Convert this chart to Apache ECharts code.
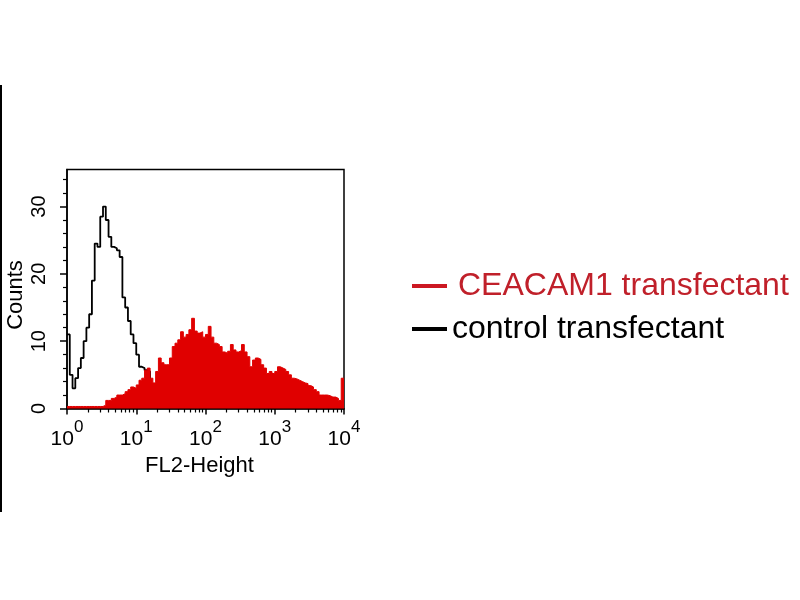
<!DOCTYPE html>
<html>
<head>
<meta charset="utf-8">
<script src="https://cdn.jsdelivr.net/npm/echarts@6/dist/echarts.min.js"></script>
<style>
html,body{margin:0;padding:0;background:#fff;}
#chart{width:800px;height:600px;}
</style>
</head>
<body>
<div id="chart"></div>
<script>
// ---- data ----
const seriesNames = ['CEACAM1 transfectant', 'control transfectant'];
const binsPerDecade = 25;           // histogram channels per decade (log scale)
const xDecadeExponents = [0, 1, 2, 3, 4];
const yTickValues = [0, 10, 20, 30];

// control transfectant (black outline)
const controlCounts = [
  11, 5, 3, 4.5, 6, 7.5, 10, 12, 14, 19,
  24.5, 24, 28.5, 30, 28, 25.5, 24, 23.8, 23.5, 22.5,
  16.5, 15, 13, 11, 9.7, 8, 6.2, 6, 5.7, 5.5,
  3.2, 1.5, 0.5, 0, 0, 0, 0, 0, 0, 0,
  0, 0, 0, 0, 0, 0, 0, 0, 0, 0,
  0, 0, 0, 0, 0, 0, 0, 0, 0, 0,
  0, 0, 0, 0, 0, 0, 0, 0, 0, 0,
  0, 0, 0, 0, 0, 0, 0, 0, 0, 0,
  0, 0, 0, 0, 0, 0, 0, 0, 0, 0,
  0, 0, 0, 0, 0, 0, 0, 0, 0, 0
];

// CEACAM1 transfectant (red filled)
const ceacamCounts = [
  0.3, 0.3, 0.3, 0.3, 0.3, 0.3, 0.3, 0.3, 0.3, 0.3,
  0.3, 0.3, 0.3, 0.5, 1.2, 1.2, 1.5, 1.7, 2.0, 2.0,
  2.2, 2.5, 2.8, 3.2, 3.0, 3.5, 4.2, 4.5, 5.7, 6.0,
  4.5, 3.8, 5.5, 7.5, 6.8, 6.5, 6.5, 7.5, 9.2, 9.7,
  10.2, 11.4, 10.6, 11.0, 11.7, 13.4, 11.5, 11.2, 11.4, 10.6,
  11.0, 12.2, 10.6, 9.7, 9.5, 9.2, 8.4, 8.2, 8.5, 9.5,
  8.7, 8.4, 8.6, 9.5, 8.4, 7.7, 6.2, 7.2, 7.5, 7.3,
  6.5, 6.0, 5.2, 5.5, 5.2, 5.5, 6.2, 6.0, 5.8, 5.5,
  5.0, 4.5, 4.4, 4.2, 4.0, 3.8, 3.7, 3.4, 3.2, 2.8,
  2.5, 2.0, 2.0, 2.0, 1.9, 1.7, 1.7, 1.5, 1.2, 4.5
];

// ---- build ----
const FONT = "'Liberation Sans', Arial, sans-serif";
function toSteps(counts) {
  const pts = counts.map((c, i) => [Math.pow(10, i / binsPerDecade), c]);
  pts.push([Math.pow(10, counts.length / binsPerDecade), counts[counts.length - 1]]);
  return pts;
}
const xMin = Math.pow(10, xDecadeExponents[0]);
const xMax = Math.pow(10, xDecadeExponents[xDecadeExponents.length - 1]);

// minor log ticks (2..9 within each decade), placed on a helper axis in exponent units
const minorXTicks = [];
for (let k = xDecadeExponents[0]; k < xDecadeExponents[xDecadeExponents.length - 1]; k++) {
  for (let m = 2; m <= 9; m++) minorXTicks.push(k + Math.log10(m));
}
const yMax = 35.5;
const minorYTicks = [];
for (let v = 2; v < yMax; v += 2) if (v % 10 !== 0) minorYTicks.push(v);

const chart = echarts.init(document.getElementById('chart'), null, {renderer: 'canvas'});
chart.setOption({
  backgroundColor: '#ffffff',
  animation: false,
  grid: {
    left: 67, right: 456, top: 169.5, bottom: 191.5,
    show: true, borderColor: '#000', borderWidth: 1.5, backgroundColor: 'transparent'
  },
  legend: {
    orient: 'vertical',
    left: 407, top: 265,
    itemWidth: 35, itemHeight: 4, itemGap: 11,
    icon: 'rect',
    textStyle: {fontSize: 32, fontFamily: FONT, color: '#000'},
    data: [
      {name: seriesNames[0], textStyle: {color: '#c0202a', padding: [0, 0, 0, 6]}},
      {name: seriesNames[1], textStyle: {color: '#000', padding: [0, 0, 0, 0]}}
    ]
  },
  xAxis: [
    {
      type: 'log', logBase: 10, min: xMin, max: xMax, position: 'bottom',
      name: 'FL2-Height', nameLocation: 'middle', nameGap: 46,
      nameTextStyle: {fontSize: 22, fontFamily: FONT, color: '#000', padding: [0, 12, 0, 0]},
      axisLine: {show: true, lineStyle: {color: '#000', width: 1.5}},
      axisTick: {show: true, length: 6, lineStyle: {color: '#000', width: 1.5}},
      splitLine: {show: false},
      axisLabel: {
        margin: 10,
        formatter: v => '{b|10}{s|' + Math.round(Math.log10(v)) + '}',
        rich: {
          b: {fontSize: 21, fontFamily: FONT, color: '#000', padding: [10, 0, 0, 0], verticalAlign: 'bottom'},
          s: {fontSize: 17, fontFamily: FONT, color: '#000', verticalAlign: 'top'}
        }
      }
    },
    {
      type: 'value', min: 0, max: 4, position: 'bottom',
      axisLine: {show: false}, axisLabel: {show: false}, splitLine: {show: false},
      axisTick: {show: true, length: 4, customValues: minorXTicks, lineStyle: {color: '#000', width: 1.2}}
    }
  ],
  yAxis: [
    {
      type: 'value', min: 0, max: yMax, interval: 10, position: 'left',
      name: 'Counts', nameLocation: 'middle', nameGap: 40, nameRotate: 90,
      nameTextStyle: {fontSize: 22, fontFamily: FONT, color: '#000', padding: [0, 12, 0, 0]},
      axisLine: {show: true, lineStyle: {color: '#000', width: 1.5}},
      axisTick: {show: true, length: 7, customValues: yTickValues, lineStyle: {color: '#000', width: 1.5}},
      splitLine: {show: false},
      axisLabel: {rotate: 90, margin: 18, fontSize: 20, fontFamily: FONT, color: '#000', customValues: yTickValues}
    },
    {
      type: 'value', min: 0, max: yMax, position: 'left',
      axisLine: {show: false}, axisLabel: {show: false}, splitLine: {show: false},
      axisTick: {show: true, length: 4, customValues: minorYTicks, lineStyle: {color: '#000', width: 1.2}}
    }
  ],
  series: [
    {
      name: seriesNames[1], type: 'line', step: 'end', xAxisIndex: 0, yAxisIndex: 0,
      data: toSteps(controlCounts), showSymbol: false, z: 2,
      itemStyle: {color: '#000'},
      lineStyle: {color: '#000', width: 1.8}
    },
    {
      name: seriesNames[0], type: 'line', step: 'end', xAxisIndex: 0, yAxisIndex: 0,
      data: toSteps(ceacamCounts), showSymbol: false, z: 3,
      itemStyle: {color: '#cc1822'},
      lineStyle: {color: '#e00000', width: 1},
      areaStyle: {color: '#e00000', opacity: 1}
    }
  ],
  graphic: [
    {type: 'line', shape: {x1: 1, y1: 85, x2: 1, y2: 512}, style: {stroke: '#000', lineWidth: 2}}
  ]
});
</script>
</body>
</html>
